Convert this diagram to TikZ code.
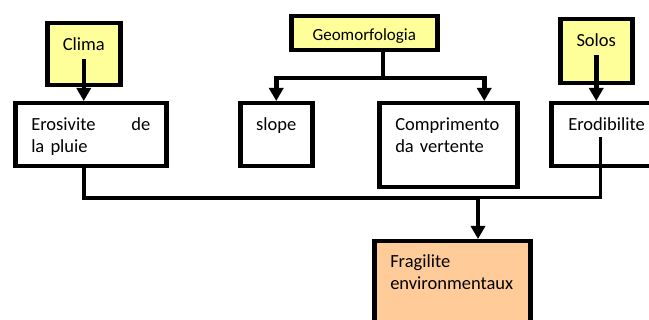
\documentclass[tikz,border=0pt]{standalone}
\usepackage{fontspec}
\setmainfont{Carlito}
\usetikzlibrary{arrows.meta,calc}
\definecolor{paleyellow}{HTML}{FFFF99}
\definecolor{peach}{HTML}{FFCC99}

\begin{document}
\begin{tikzpicture}[x=1pt,y=-1pt,
  box/.style={draw,line width=4.5pt,anchor=north west,inner ysep=0pt,font=\fontsize{18.5}{22}\selectfont},
  causebox/.style={box,fill=paleyellow,inner xsep=0pt},
  textbox/.style={box,align=left,inner xsep=16pt},
  link/.style={line width=4.5pt},
  arr/.style={link,-{Triangle[length=13pt,width=14pt]}}]
\useasboundingbox (0,0) rectangle (649,320);
% causes
  \node[causebox,minimum width=73pt,text height=27pt,text depth=35pt] (clima) at (45,21) {Clima};
  \node[causebox,font=\fontsize{17}{20}\selectfont,minimum width=146pt,text height=24.5pt,text depth=9.5pt] (geomorf) at (289,14) {Geomorfologia};
  \node[causebox,minimum width=72pt,text height=27pt,text depth=37pt] (solos) at (558,17) {Solos};
% factors
  \node[textbox,text width=119pt,text height=27pt,text depth=36pt] (erosiv) at (13,101) {Erosivite\hfill de\\la pluie};
  \node[box,minimum width=72pt,inner xsep=0pt,text height=27pt,text depth=36pt] (slope) at (238,101) {slope};
  \node[textbox,text width=106pt,text height=27pt,text depth=57pt] (compr) at (377,101) {Comprimento\\da vertente};
  \node[textbox,inner xsep=17pt,text width=90pt,text height=27pt,text depth=36pt] (erodib) at (549,101) {Erodibilite};
% result
  \node[textbox,fill=peach,text width=124pt,text height=26pt,text depth=75pt] (fragil) at (372,239) {Fragilite\\environmentaux};
\coordinate (split) at (383,78);
\coordinate (join) at (478,198);
\coordinate (erodfoot) at (600,137);
  \draw[arr] ([yshift=-5pt]clima.center) -- (clima |- erosiv.north);
  \draw[link] (geomorf.south -| split) -- (split);
  \draw[arr] (split) -| (slope.north);
  \draw[arr] (split) -| ([xshift=36pt]compr.north);
  \draw[arr] ([yshift=-4pt]solos.center) -- (solos |- erodib.north);
  \draw[link] (erosiv.south -| clima) |- (join);
  \draw[line width=3pt] (erodfoot) |- (join);
  \draw[arr] (join) -- (join |- fragil.north);
\end{tikzpicture}
\end{document}
